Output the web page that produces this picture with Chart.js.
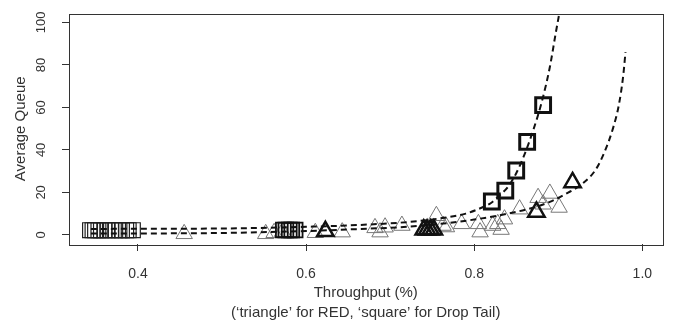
<!DOCTYPE html>
<html>
<head>
<meta charset="utf-8">
<script src="https://cdn.jsdelivr.net/npm/chart.js@4.4.1/dist/chart.umd.min.js"></script>
<style>
  html, body { margin: 0; padding: 0; background: #fff; }
  #wrap { width: 676px; height: 324px; }
</style>
</head>
<body>
<div id="wrap"><canvas id="myChart" width="676" height="324"></canvas></div>
<script>
// axis ticks
const xTickValues = [0.4, 0.6, 0.8, 1.0];
const xTickLabels = ['0.4', '0.6', '0.8', '1.0'];
const yTickValues = [0, 20, 40, 60, 80, 100];
const yTickLabels = ['0', '20', '40', '60', '80', '100'];

// RED runs (triangles), light and heavy outlines
const redX = [0.455, 0.552, 0.562, 0.572, 0.611, 0.643, 0.682, 0.688, 0.694, 0.714, 0.755, 0.763, 0.767, 0.785,
              0.805, 0.807, 0.822, 0.828, 0.832, 0.836, 0.854, 0.876, 0.882, 0.890, 0.901];
const redY = [0.5, 0.5, 1.0, 1.5, 1.0, 1.3, 3.3, 1.3, 3.6, 4.4, 9.0, 4.4, 3.7, 5.2,
              5.2, 1.3, 4.4, 5.2, 2.5, 7.4, 12.1, 17.5, 14.4, 19.5, 12.9];
const redBoldX = [0.623, 0.740, 0.744, 0.748, 0.752, 0.874, 0.917];
const redBoldY = [1.7, 2.4, 2.4, 2.4, 2.4, 10.8, 24.7];

// Drop Tail runs (squares)
const dropX = [0.343, 0.346, 0.349, 0.353, 0.356, 0.360, 0.364, 0.368, 0.373, 0.378, 0.381, 0.386, 0.389, 0.394];
const dropY = [2.2, 2.2, 2.2, 2.2, 2.2, 2.2, 2.2, 2.2, 2.2, 2.2, 2.2, 2.2, 2.2, 2.2];
const dropMidX = [0.573, 0.576, 0.580, 0.583, 0.587];
const dropMidY = [2.3, 2.3, 2.3, 2.3, 2.3];
const dropBoldX = [0.821, 0.837, 0.850, 0.863, 0.882];
const dropBoldY = [15.7, 20.8, 30.3, 43.8, 61.1];

// fitted curves (dashed)
const dropCurveX = [0.344, 0.5, 0.6, 0.66, 0.72, 0.76, 0.79, 0.81, 0.82, 0.83, 0.84, 0.85, 0.86, 0.87, 0.88, 0.89, 0.897, 0.903];
const dropCurveY = [2.8, 3.0, 3.8, 4.6, 6.0, 7.8, 10, 13, 15, 18.5, 22.5, 29, 38, 49, 62, 79, 95, 108];
const redCurveX = [0.344, 0.5, 0.6, 0.66, 0.72, 0.76, 0.8, 0.84, 0.87, 0.89, 0.91, 0.93, 0.945, 0.955, 0.965, 0.972, 0.977, 0.98];
const redCurveY = [0.6, 0.9, 1.8, 2.7, 3.8, 5.2, 7.2, 10, 12.8, 15.5, 19.5, 24.5, 31, 39, 50, 61, 74, 86];

const xTitle = ['Throughput (%)', '(\u2018triangle\u2019 for RED, \u2018square\u2019 for Drop Tail)'];
const yTitle = 'Average Queue';

function pts(xs, ys) {
    return xs.map((x, i) => ({x: x, y: ys[i]}));
}

const FONT = "'Liberation Sans', Arial, Helvetica, sans-serif";
const TXT = '#333';

// R style box round the plot area
const boxPlugin = {
    id: 'box',
    afterDatasetsDraw(chart) {
        const a = chart.chartArea;
        const ctx = chart.ctx;
        ctx.save();
        ctx.strokeStyle = '#333';
        ctx.lineWidth = 1;
        ctx.strokeRect(Math.round(a.left) + 0.5, Math.round(a.top) + 0.5,
                       Math.round(a.right - a.left), Math.round(a.bottom - a.top));
        ctx.restore();
    }
};

const canvas = document.getElementById('myChart');
const myChart = new Chart(canvas, {
    type: 'scatter',
    data: {
        datasets: [
            {
                type: 'line', label: 'Drop Tail fit', data: pts(dropCurveX, dropCurveY),
                borderColor: '#111', borderWidth: 2, borderDash: [6, 4],
                pointRadius: 0, fill: false, cubicInterpolationMode: 'monotone'
            },
            {
                type: 'line', label: 'RED fit', data: pts(redCurveX, redCurveY),
                borderColor: '#111', borderWidth: 2, borderDash: [6, 4],
                pointRadius: 0, fill: false, cubicInterpolationMode: 'monotone'
            },
            {
                label: 'Drop Tail', data: pts(dropBoldX, dropBoldY),
                pointStyle: 'rect', pointRadius: 10.5,
                pointBorderColor: '#111', pointBorderWidth: 3, pointBackgroundColor: 'rgba(0,0,0,0)'
            },
            {
                label: 'Drop Tail', data: pts(dropMidX, dropMidY),
                pointStyle: 'rect', pointRadius: 10.5,
                pointBorderColor: '#111', pointBorderWidth: 1.8, pointBackgroundColor: 'rgba(0,0,0,0)'
            },
            {
                label: 'Drop Tail', data: pts(dropX, dropY),
                pointStyle: 'rect', pointRadius: 10.5,
                pointBorderColor: '#222', pointBorderWidth: 1.2, pointBackgroundColor: 'rgba(0,0,0,0)'
            },
            {
                label: 'RED', data: pts(redBoldX, redBoldY),
                pointStyle: 'triangle', pointRadius: 9.5,
                pointBorderColor: '#111', pointBorderWidth: 2.5, pointBackgroundColor: 'rgba(0,0,0,0)'
            },
            {
                label: 'RED', data: pts(redX, redY),
                pointStyle: 'triangle', pointRadius: 9.5,
                pointBorderColor: '#777', pointBorderWidth: 1, pointBackgroundColor: 'rgba(0,0,0,0)'
            }
        ]
    },
    options: {
        responsive: false,
        animation: false,
        layout: { padding: { top: 10, right: 9, left: 0, bottom: 0 } },
        plugins: { legend: { display: false }, tooltip: { enabled: false } },
        scales: {
            x: {
                type: 'linear', min: 0.318, max: 1.024,
                afterBuildTicks: s => { s.ticks = xTickValues.map(v => ({value: v})); },
                afterFit: s => { s.height = 80; s.paddingLeft = 0; s.paddingRight = 0; },
                grid: { drawOnChartArea: false, drawTicks: true, tickLength: 7, tickColor: '#333' },
                border: { display: false },
                ticks: {
                    callback: (v, i) => xTickLabels[i],
                    color: TXT, font: { family: FONT, size: 14 },
                    padding: 15, maxRotation: 0, autoSkip: false
                },
                title: {
                    display: true, text: xTitle, color: TXT,
                    font: { family: FONT, size: 15, lineHeight: 1.33 }, padding: { top: 0, bottom: 1 }
                }
            },
            y: {
                type: 'linear', min: -4.3, max: 104.2,
                afterBuildTicks: s => { s.ticks = yTickValues.map(v => ({value: v})); },
                afterFit: s => { s.width = 69; s.paddingTop = 0; s.paddingBottom = 0; },
                grid: { drawOnChartArea: false, drawTicks: true, tickLength: 7, tickColor: '#333' },
                border: { display: false },
                ticks: {
                    callback: (v, i) => yTickLabels[i],
                    color: TXT, font: { family: FONT, size: 13 },
                    minRotation: 90, maxRotation: 90, crossAlign: 'center',
                    padding: 10, autoSkip: false
                },
                title: {
                    display: true, text: yTitle, color: TXT,
                    font: { family: FONT, size: 15 }, padding: { top: 12, bottom: 0 }
                }
            }
        }
    },
    plugins: [boxPlugin]
});
</script>
</body>
</html>
